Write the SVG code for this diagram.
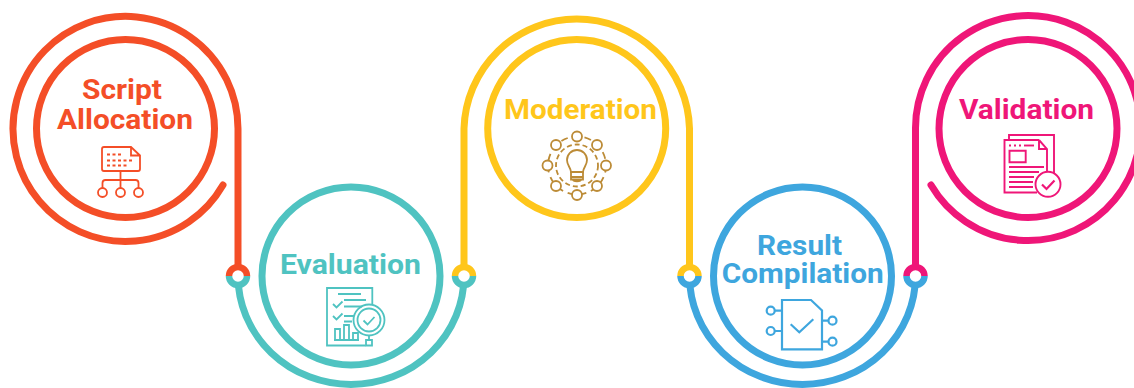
<svg xmlns="http://www.w3.org/2000/svg" width="1134" height="388" viewBox="0 0 1134 388">
<style>
.ring,.wire{fill:none;stroke-width:7;stroke-linecap:round}
.ring{stroke-linecap:butt}
.cap{fill:#fff;stroke:none}
.half{fill:none;stroke-width:6.5}
.label{font-family:Roboto,"Noto Sans","Liberation Sans",sans-serif;font-weight:700;font-size:28px;text-anchor:start}
.icon{fill:none;stroke-width:1.8}
.red{stroke:#F44E27}.teal{stroke:#4FC3C1}.yel{stroke:#FFC61B}.blue{stroke:#3EA6DE}.pink{stroke:#EF1678}.gold{stroke:#BC8B36}
.tred{fill:#F44E27}.tteal{fill:#4FC3C1}.tyel{fill:#FFC61B}.tblue{fill:#3EA6DE}.tpink{fill:#EF1678}
</style>
<g id="connectors">
<path class="wire red" d="M223 185A112.500 112.500 0 1 1 238 128.500V266"/>
<path class="wire teal" d="M238 276A113 108.500 0 0 0 464 276"/>
<path class="wire yel" d="M464 266V128.500A112.800 112.800 0 0 1 689.500 128.500V266"/>
<path class="wire blue" d="M689.500 276A113 108.500 0 0 0 915.500 276"/>
<path class="wire pink" d="M915.500 266V128.500A112.500 112.500 0 1 1 931 185"/>
</g>
<g id="junction-1"><circle class="cap" cx="238" cy="276" r="9"/><path class="half red" d="M229 276a9 9 0 0 1 18 0"/><path class="half teal" d="M229 276a9 9 0 0 0 18 0"/></g>
<g id="junction-2"><circle class="cap" cx="464" cy="276" r="9"/><path class="half yel" d="M455 276a9 9 0 0 1 18 0"/><path class="half teal" d="M455 276a9 9 0 0 0 18 0"/></g>
<g id="junction-3"><circle class="cap" cx="689.500" cy="276" r="9"/><path class="half yel" d="M680.500 276a9 9 0 0 1 18 0"/><path class="half blue" d="M680.500 276a9 9 0 0 0 18 0"/></g>
<g id="junction-4"><circle class="cap" cx="915.500" cy="276" r="9"/><path class="half pink" d="M906.500 276a9 9 0 0 1 18 0"/><path class="half blue" d="M906.500 276a9 9 0 0 0 18 0"/></g>

<g id="script-allocation">
<circle class="ring red" cx="125.500" cy="128.500" r="89"/>
<text class="label tred" x="82" y="98.500" textLength="80" lengthAdjust="spacingAndGlyphs">Script</text>
<text class="label tred" x="57" y="128.700" textLength="136" lengthAdjust="spacingAndGlyphs">Allocation</text>
<g class="icon red">
<path d="M104 147H131L140 155.500V169A2 2 0 0 1 138 171H104A2 2 0 0 1 102 169V149A2 2 0 0 1 104 147ZM131 147V155.500H140"/>
<path d="M107 154.500H123M107 160.500H132M107 165.500H128" stroke-dasharray="3 2.500"/>
<path d="M120.500 171V188M102.500 188V183A3 3 0 0 1 105.500 180H135.500A3 3 0 0 1 138.500 183V188"/>
<circle cx="102.500" cy="192.500" r="4.500"/><circle cx="120.500" cy="192.500" r="4.500"/><circle cx="138.500" cy="192.500" r="4.500"/>
</g>
</g>

<g id="evaluation">
<circle class="ring teal" cx="351" cy="276" r="89"/>
<text class="label tteal" x="280" y="273.500" textLength="141" lengthAdjust="spacingAndGlyphs">Evaluation</text>
<g class="icon teal">
<path d="M372.300 304V288H327V345.500H365.500"/>
<path d="M338 294H361M344 300H366M344 306.500H362M344 316H354M344 321.500H352"/>
<path d="M333 304L336.500 307.500L342.500 301.500M333 316L336.500 319.500L342.500 313.500"/>
<path d="M334 340H359M335 339V329H340V339M344 339V325H349V339M353 339V333H358V339"/>
<circle cx="369" cy="320" r="15.500"/><circle cx="369" cy="320" r="11.500"/>
<path d="M363.500 320.500L367.500 324.500L374.500 317"/>
<path d="M366 340H372V345.500H366Z M369 336V340"/>
</g>
</g>

<g id="moderation">
<circle class="ring yel" cx="576.700" cy="128.500" r="89"/>
<text class="label tyel" x="504" y="119" textLength="153" lengthAdjust="spacingAndGlyphs">Moderation</text>
<g class="icon gold">
<circle cx="577" cy="165.500" r="29" stroke-dasharray="7 5"/>
<circle cx="577" cy="165.500" r="21" stroke-dasharray="5 3"/>
<g fill="#fff">
<circle cx="577" cy="136.500" r="5"/><circle cx="597" cy="145" r="5"/><circle cx="606" cy="165.500" r="5"/><circle cx="597" cy="186" r="5"/>
<circle cx="577" cy="195" r="5"/><circle cx="556" cy="186" r="5"/><circle cx="547.500" cy="165.500" r="5"/><circle cx="556" cy="145" r="5"/>
</g>
<path d="M571 172C570.500 167 567 165.500 567 160A10 10 0 0 1 587 160C587 165.500 583.500 167 583 172H571Z"/>
<path d="M571 172V177H583V172M571 177V179.500H583V177M573 179.500C573 182 581 182 581 179.500"/>
</g>
</g>

<g id="result-compilation">
<circle class="ring blue" cx="802.500" cy="276" r="89"/>
<text class="label tblue" x="757" y="254.700" textLength="85" lengthAdjust="spacingAndGlyphs">Result</text>
<text class="label tblue" x="721.700" y="283" textLength="162" lengthAdjust="spacingAndGlyphs">Compilation</text>
<g class="icon blue" style="stroke-width:2.200">
<path d="M782 300H811L822 310.500V349.300H782Z"/>
<path d="M790.700 324.300L799.300 332.300L813.300 319.300"/>
<circle cx="770.700" cy="310.700" r="4"/><circle cx="770.700" cy="331" r="4"/><circle cx="832.500" cy="320.700" r="4"/><circle cx="832.500" cy="341.700" r="4"/>
<path d="M774.700 310.700H782M774.700 331H782M822 320.700H828.500M822 341.700H828.500"/>
</g>
</g>

<g id="validation">
<circle class="ring pink" cx="1028" cy="128.500" r="89"/>
<text class="label tpink" x="959" y="119" textLength="135" lengthAdjust="spacingAndGlyphs">Validation</text>
<g class="icon pink" style="stroke-width:1.900">
<path d="M1009 140V135H1054V173"/>
<path d="M1039 140H1004.500V192.500H1037M1039 140L1047 149V172M1039 140V149H1047"/>
<path d="M1009.500 150.700H1025.700V162.300H1009.500Z"/>
<path d="M1009 167H1044M1009 172H1039M1009 177H1034M1009 182H1033M1009 187H1033"/>
<path d="M1009 145.500H1021" stroke-dasharray="2 3"/><path d="M1024 145.500H1034"/>
<circle cx="1048" cy="184.300" r="12.500" fill="#fff"/>
<path d="M1042 184.500L1046.500 189L1054.500 180.500" stroke-width="2.200"/>
</g>
</g>
</svg>
